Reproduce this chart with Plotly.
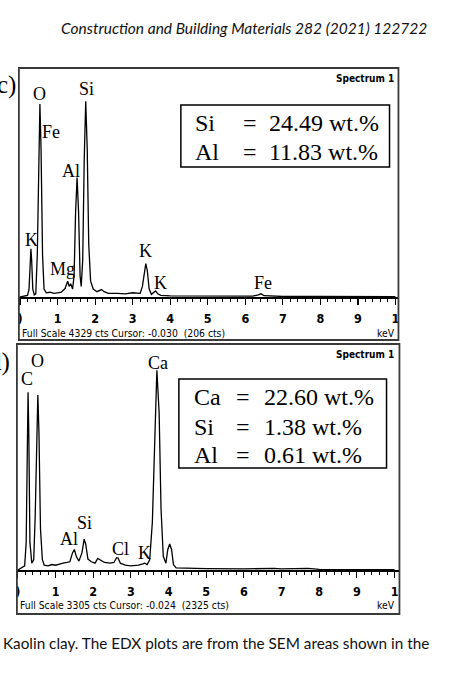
import plotly.graph_objects as go

W, H = 471, 692

# ---------------- data ----------------
# Panel c) : EDX spectrum (keV, counts), full scale 4329 cts
c_kev = [0.0, 0.10, 0.20, 0.24, 0.27, 0.29, 0.31, 0.34, 0.38, 0.42, 0.46, 0.50, 0.53, 0.56, 0.60,
         0.64, 0.70, 0.80, 0.90, 1.00, 1.10, 1.20, 1.27, 1.31, 1.35, 1.40, 1.44, 1.48, 1.52, 1.56,
         1.60, 1.63, 1.67, 1.71, 1.75, 1.79, 1.83, 1.88, 1.95, 2.05, 2.12, 2.17, 2.24, 2.35, 2.60,
         2.80, 3.00, 3.10, 3.20, 3.26, 3.31, 3.35, 3.39, 3.44, 3.50, 3.56, 3.61, 3.67, 3.75, 4.00,
         5.00, 6.20, 6.35, 6.42, 6.50, 7.00, 8.00, 10.0]
c_cts = [0, 20, 30, 150, 700, 910, 700, 150, 40, 60, 800, 2800, 3650, 2800, 800,
         150, 80, 90, 70, 80, 90, 160, 300, 200, 250, 150, 400, 1600, 2260, 1600,
         400, 200, 700, 2600, 3700, 2800, 1000, 300, 150, 100, 120, 140, 100, 70, 70,
         60, 80, 70, 70, 200, 500, 630, 500, 150, 50, 80, 115, 60, 30, 20,
         15, 15, 40, 60, 25, 10, 10, 5]
c_full_scale = 4329
c_peaks = ["O", "Si", "Fe", "Al", "K", "Mg", "K", "K", "Fe"]
c_peak_kev = [0.53, 1.77, 0.82, 1.35, 0.31, 1.12, 3.33, 3.73, 6.48]
c_peak_cts = [3836, 3931, 3114, 2374, 1082, 532, 873, 266, 266]
c_elements = ["Si", "Al"]
c_wt = ["24.49 wt.%", "11.83 wt.%"]
c_status = "Full Scale 4329 cts Cursor: -0.030  (206 cts)"

# Panel d) : EDX spectrum (keV, counts), full scale 3305 cts
d_kev = [0.0, 0.10, 0.18, 0.22, 0.25, 0.27, 0.29, 0.32, 0.37, 0.42, 0.46, 0.50, 0.53, 0.56, 0.60,
         0.65, 0.70, 0.80, 0.90, 1.00, 1.10, 1.20, 1.30, 1.38, 1.45, 1.50, 1.55, 1.62, 1.70, 1.76,
         1.80, 1.86, 1.95, 2.05, 2.12, 2.18, 2.30, 2.45, 2.55, 2.62, 2.66, 2.72, 2.85, 3.00, 3.20,
         3.32, 3.37, 3.43, 3.50, 3.57, 3.63, 3.69, 3.75, 3.80, 3.86, 3.93, 3.98, 4.03, 4.08, 4.13,
         4.20, 4.50, 4.70, 5.00, 6.00, 6.80, 7.00, 7.70, 8.00, 10.0]
d_cts = [0, 30, 60, 400, 2000, 2600, 2000, 400, 100, 150, 800, 2000, 2560, 2000, 600,
         150, 70, 60, 80, 70, 90, 100, 110, 120, 250, 300, 200, 130, 250, 450,
         380, 160, 120, 100, 170, 150, 110, 100, 110, 180, 175, 100, 70, 60, 70,
         90, 100, 80, 150, 700, 2000, 2920, 2300, 900, 200, 100, 300, 380, 300, 80,
         30, 25, 30, 20, 15, 25, 15, 25, 10, 5]
d_full_scale = 3305
d_peaks = ["O", "C", "Ca", "Si", "Al", "Cl", "K"]
d_peak_kev = [0.53, 0.24, 3.72, 1.77, 1.37, 2.72, 3.35]
d_peak_cts = [3056, 2792, 3026, 687, 453, 307, 249]
d_elements = ["Ca", "Si", "Al"]
d_wt = ["22.60 wt.%", "1.38 wt.%", "0.61 wt.%"]
d_status = "Full Scale 3305 cts Cursor: -0.024  (2325 cts)"

tick_vals = list(range(0, 11))
tick_text = [")", "1", "2", "3", "4", "5", "6", "7", "8", "9", "1"]

header = "Construction and Building Materials 282 (2021) 122722"
caption = "Kaolin clay. The EDX plots are from the SEM areas shown in the"

# ---------------- helpers ----------------
def px(x):
    return x / W

def py(y):
    return 1 - y / H

SERIF = "Liberation Serif, Times New Roman, serif"
NARROW = "Liberation Sans Narrow, DejaVu Sans Condensed, Arial Narrow, sans-serif"
SANS = "Lato, Open Sans, sans-serif"

fig = go.Figure()
fig.add_trace(go.Scatter(x=c_kev, y=c_cts, mode="lines", line=dict(color="black", width=1.3),
                         xaxis="x", yaxis="y", showlegend=False, hoverinfo="skip"))
fig.add_trace(go.Scatter(x=d_kev, y=d_cts, mode="lines", line=dict(color="black", width=1.3),
                         xaxis="x2", yaxis="y2", showlegend=False, hoverinfo="skip"))

def xaxis_cfg(left, right, rng, anchor):
    return dict(domain=[px(left), px(right)], range=rng, anchor=anchor,
                tickmode="array", tickvals=tick_vals, ticktext=tick_text,
                ticks="outside", ticklen=6, tickwidth=1.2, tickcolor="black",
                minor=dict(dtick=0.2, ticks="outside", ticklen=3, tickwidth=1, tickcolor="black"),
                showline=True, linecolor="black", linewidth=1.5,
                showgrid=False, zeroline=False, ticklabelstandoff=3,
                tickfont=dict(family=NARROW, size=12.5, color="black", weight="bold"),
                fixedrange=True)

fig.update_layout(
    width=W, height=H, autosize=False,
    margin=dict(l=0, r=0, t=0, b=0),
    paper_bgcolor="white", plot_bgcolor="white",
    xaxis=xaxis_cfg(17, 399, [-0.03, 10.08], "y"),
    yaxis=dict(domain=[py(297), py(68)], range=[0, c_full_scale], visible=False, fixedrange=True),
    xaxis2=xaxis_cfg(15, 400, [-0.026, 10.13], "y2"),
    yaxis2=dict(domain=[py(570), py(344)], range=[0, d_full_scale], visible=False, fixedrange=True),
)

shapes = []
# panel frames
for (l, t, r, b) in [(17, 68, 399, 340), (15, 344, 400, 614)]:
    shapes.append(dict(type="rect", xref="paper", yref="paper", x0=px(l), x1=px(r), y0=py(b), y1=py(t),
                       line=dict(color="#3a3a3a", width=1.8)))
# composition boxes
for (l, t, r, b) in [(180, 105, 390, 167), (178, 379, 387, 468)]:
    shapes.append(dict(type="rect", xref="paper", yref="paper", x0=px(l), x1=px(r), y0=py(b), y1=py(t),
                       line=dict(color="black", width=1.5)))
fig.update_layout(shapes=shapes)

ann = []
# header and caption
ann.append(dict(text=header, x=px(244), y=py(28), xref="paper", yref="paper", showarrow=False,
                xanchor="center", yanchor="middle",
                font=dict(family=SANS, size=15.5, color="#111", style="italic")))
ann.append(dict(text=caption, x=px(-1), y=py(643), xref="paper", yref="paper", showarrow=False,
                xanchor="left", yanchor="middle", font=dict(family=SANS, size=15.3, color="#111")))
# panel letters (clipped at left edge, as in the source page)
ann.append(dict(text="c)", x=px(16), y=py(85), xref="paper", yref="paper", showarrow=False,
                xanchor="right", yanchor="middle", font=dict(family=SERIF, size=25, color="black")))
ann.append(dict(text="d)", x=px(10), y=py(362), xref="paper", yref="paper", showarrow=False,
                xanchor="right", yanchor="middle", font=dict(family=SERIF, size=25, color="black")))
# Spectrum labels, status lines, keV
for (ytop, ystat, status, xl) in [(79, 333, c_status, 18), (354, 605, d_status, 16)]:
    ann.append(dict(text="Spectrum 1", x=px(397), y=py(ytop), xref="paper", yref="paper", showarrow=False,
                    xanchor="right", yanchor="middle",
                    font=dict(family=NARROW, size=10, color="black", weight="bold")))
    ann.append(dict(text=status, x=px(xl), y=py(ystat), xref="paper", yref="paper", showarrow=False,
                    xanchor="left", yanchor="middle",
                    font=dict(family=NARROW, size=10.3, color="black")))
    ann.append(dict(text="keV", x=px(398), y=py(ystat), xref="paper", yref="paper", showarrow=False,
                    xanchor="right", yanchor="middle",
                    font=dict(family=NARROW, size=10.3, color="black")))
# peak labels in data coordinates
for name, xv, yv in zip(c_peaks, c_peak_kev, c_peak_cts):
    ann.append(dict(text=name, x=xv, y=yv, xref="x", yref="y", showarrow=False,
                    xanchor="center", yanchor="middle", font=dict(family=SERIF, size=18, color="black")))
for name, xv, yv in zip(d_peaks, d_peak_kev, d_peak_cts):
    ann.append(dict(text=name, x=xv, y=yv, xref="x2", yref="y2", showarrow=False,
                    xanchor="center", yanchor="middle", font=dict(family=SERIF, size=18, color="black")))
# composition text
def box_text(elements, values, rows, x_name, x_eq, x_val):
    for el, v, yy in zip(elements, values, rows):
        ann.append(dict(text=el, x=px(x_name), y=py(yy), xref="paper", yref="paper", showarrow=False,
                        xanchor="left", yanchor="middle", font=dict(family=SERIF, size=24, color="black")))
        ann.append(dict(text="=", x=px(x_eq), y=py(yy), xref="paper", yref="paper", showarrow=False,
                        xanchor="center", yanchor="middle", font=dict(family=SERIF, size=24, color="black")))
        ann.append(dict(text=v, x=px(x_val), y=py(yy), xref="paper", yref="paper", showarrow=False,
                        xanchor="left", yanchor="middle", font=dict(family=SERIF, size=24, color="black")))

box_text(c_elements, c_wt, [123, 152], 192, 250, 267)
box_text(d_elements, d_wt, [397, 427, 455], 191, 243, 262)

fig.update_layout(annotations=ann)

fig.write_html("out.html", config={"displayModeBar": False, "staticPlot": True},
               post_script="document.body.style.margin='0';document.body.style.overflow='hidden';")
